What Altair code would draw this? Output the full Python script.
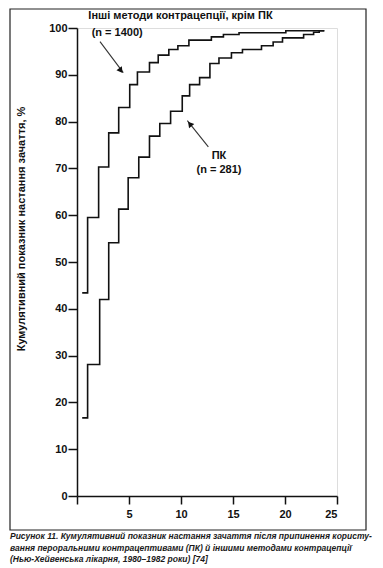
import altair as alt
import pandas as pd

# ---- data ----
other_x = [0.5, 1.02, 2.08, 3.05, 4.01, 5.07, 5.81, 6.97, 7.81, 8.83, 9.70, 10.76, 12.92, 14.08, 15.58, 20.08, 23.78]
other_y = [43.4, 59.5, 70.3, 77.6, 83.0, 87.9, 90.6, 92.6, 94.2, 95.4, 96.2, 97.4, 98.1, 98.6, 99.0, 99.4, 99.4]

pk_x = [0.5, 1.02, 2.18, 3.05, 4.01, 4.92, 5.94, 6.97, 7.96, 9.0, 10.12, 10.83, 11.79, 12.78, 13.65,
        14.85, 15.91, 17.74, 18.86, 19.76, 21.79, 22.75, 23.29, 23.78]
pk_y = [16.7, 28.1, 42.0, 54.1, 61.3, 68.0, 72.4, 76.9, 79.6, 82.2, 85.5, 87.9, 89.4, 92.4, 93.6,
        94.7, 95.4, 96.2, 97.0, 97.9, 98.6, 99.1, 99.4, 99.4]

x_ticks = [0, 5, 10, 15, 20, 25]
y_ticks = [0, 10, 20, 30, 40, 50, 60, 70, 80, 90, 100]

y_title = "Кумулятивний показник настання зачаття, %"

label_text = ["Інші методи контрацепції, крім ПК", "(n = 1400)", "ПК", "(n = 281)"]
label_x = [1.09, 1.41, 13.65, 13.65]
label_y = [102.5, 99.0, 72.7, 69.7]
label_align = ["left", "left", "center", "center"]

arrow_x = [2.21, 12.63]
arrow_y = [97.1, 74.6]
arrow_x2 = [4.45, 10.61]
arrow_y2 = [90.45, 80.2]
head_x = [4.22, 10.85]
head_y = [90.9, 79.5]
head_angle = [143, 321]

caption = [
    "Рисунок 11. Кумулятивний показник настання зачаття після припинення користу-",
    "вання пероральними контрацептивами (ПК) й іншими методами контрацепції",
    "(Нью-Хейвенська лікарня, 1980–1982 роки) [74]",
]

FONT = "Liberation Sans"
INK = "#111111"

rows = []
for i, (a, b) in enumerate(zip(other_x, other_y)):
    rows.append({"series": "other", "i": i, "x": a, "y": b})
for i, (a, b) in enumerate(zip(pk_x, pk_y)):
    rows.append({"series": "pk", "i": i, "x": a, "y": b})
df = pd.DataFrame(rows)

xs = alt.Scale(domain=[0, 25], nice=False, zero=False)
ys = alt.Scale(domain=[0, 100], nice=False)

lines = alt.Chart(df).mark_line(interpolate="step-after", color=INK, strokeWidth=1.6).encode(
    x=alt.X("x:Q", scale=xs, axis=alt.Axis(
        values=x_ticks, title=None, grid=False, tickSize=8, tickColor=INK, tickWidth=1.5,
        domainColor=INK, domainWidth=1.5, labelFont=FONT, labelFontSize=11, labelFontWeight="bold",
        labelColor=INK, labelPadding=4,
        labelExpr="datum.value == 0 ? '' : datum.label")),
    y=alt.Y("y:Q", scale=ys, axis=alt.Axis(
        values=y_ticks, title=None, grid=False, tickSize=9, tickColor=INK, tickWidth=1.5,
        domainColor=INK, domainWidth=1.5, labelFont=FONT, labelFontSize=11, labelFontWeight="bold",
        labelColor=INK, labelPadding=1)),
    detail="series:N",
    order="i:Q",
)

lab_df = pd.DataFrame({"t": label_text, "x": label_x, "y": label_y, "a": label_align})
labels_left = alt.Chart(lab_df[lab_df.a == "left"]).mark_text(
    align="left", baseline="middle", font=FONT, fontSize=11, fontWeight="bold", color=INK
).encode(x=alt.X("x:Q", scale=xs), y=alt.Y("y:Q", scale=ys), text="t:N")
labels_center = alt.Chart(lab_df[lab_df.a == "center"]).mark_text(
    align="center", baseline="middle", font=FONT, fontSize=11, fontWeight="bold", color=INK
).encode(x=alt.X("x:Q", scale=xs), y=alt.Y("y:Q", scale=ys), text="t:N")

arr_df = pd.DataFrame({"x": arrow_x, "y": arrow_y, "x2": arrow_x2, "y2": arrow_y2})
arrows = alt.Chart(arr_df).mark_rule(color="#333333", strokeWidth=1.1).encode(
    x=alt.X("x:Q", scale=xs), y=alt.Y("y:Q", scale=ys), x2="x2:Q", y2="y2:Q")

head_df = pd.DataFrame({"x": head_x, "y": head_y, "ang": head_angle})
heads = alt.Chart(head_df).mark_point(shape="triangle-up", filled=True, color="#111111", size=45, opacity=1).encode(
    x=alt.X("x:Q", scale=xs), y=alt.Y("y:Q", scale=ys),
    angle=alt.Angle("ang:Q", scale=None))

frame = alt.Chart(pd.DataFrame({"k": [0]})).mark_rect(
    fill=None, stroke="#222222", strokeWidth=1.2).encode(
    x=alt.value(-67), x2=alt.value(289), y=alt.value(-19), y2=alt.value(502))

ytitle = alt.Chart(pd.DataFrame({"t": [y_title]})).mark_text(
    angle=270, align="center", baseline="middle", font=FONT, fontSize=11, fontWeight="bold", color=INK
).encode(x=alt.value(-55), y=alt.value(201), text="t:N")

cap_df = pd.DataFrame({"t": caption, "py": [508, 519.7, 531.3]})
cap = alt.Chart(cap_df).mark_text(
    align="left", baseline="middle", font=FONT, fontSize=8.5, fontWeight="bold", fontStyle="italic", color="#1a1a1a"
).encode(x=alt.value(-67), y=alt.Y("py:Q", scale=None), text="t:N")

chart = alt.layer(frame, lines, arrows, heads, labels_left, labels_center, ytitle, cap).properties(
    width=260, height=468,
    autosize=alt.AutoSizeParams(type="none"),
    padding={"left": 69, "top": 20, "right": 38, "bottom": 68},
).configure_view(stroke=None).configure(background="white")

chart.save("out.html", embed_options={"renderer": "svg", "actions": False})
